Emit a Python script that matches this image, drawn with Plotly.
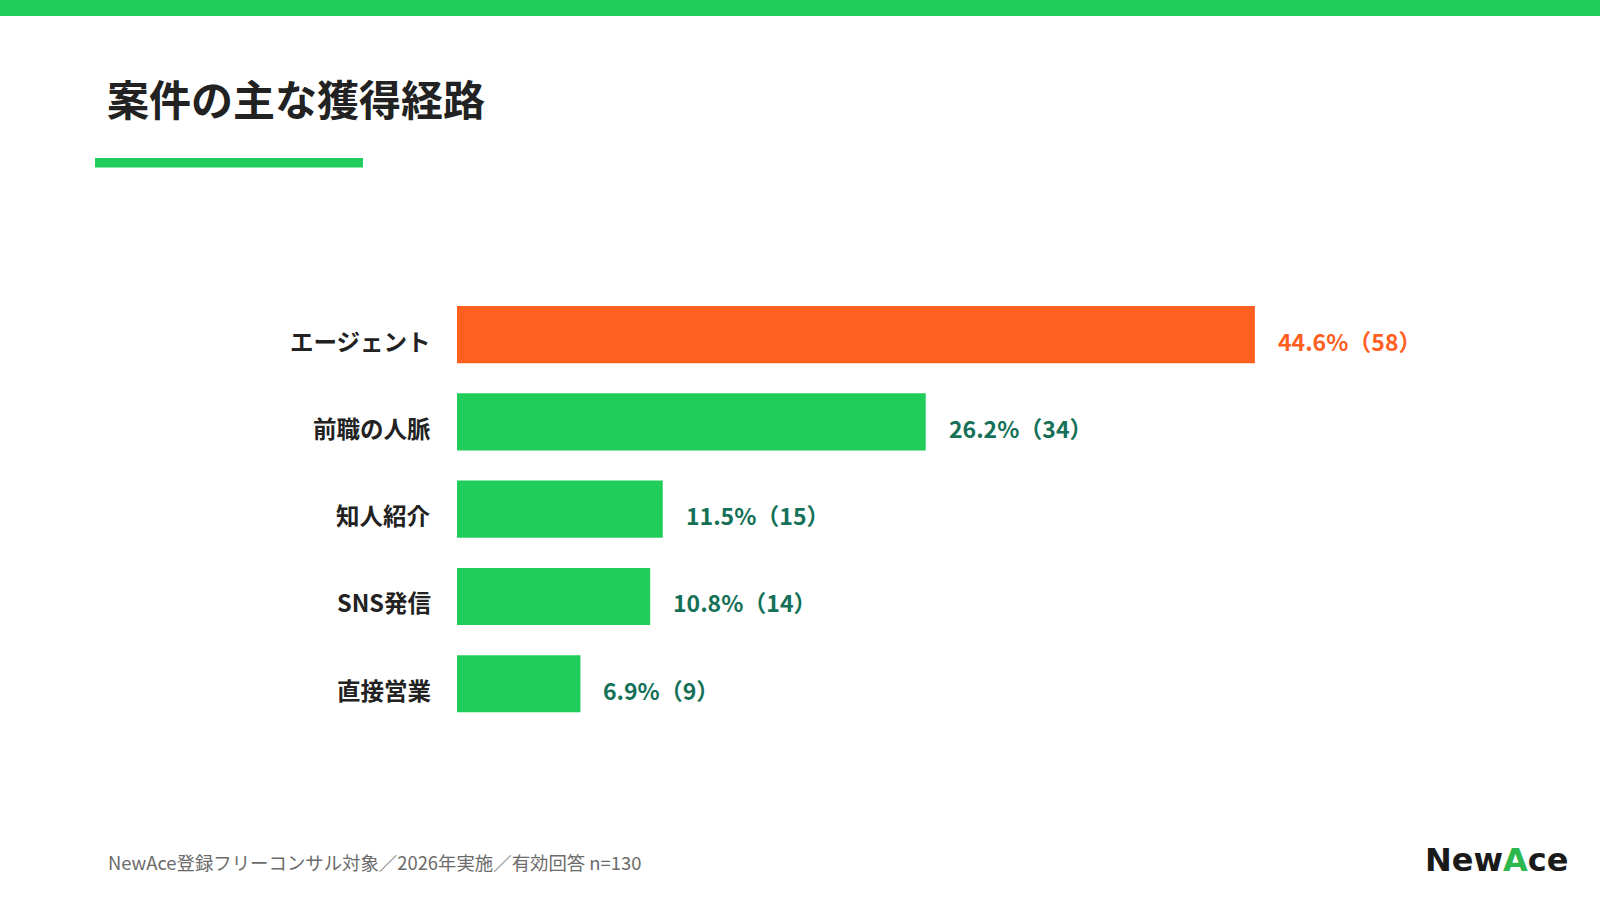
import plotly.graph_objects as go

categories = ["エージェント", "前職の人脈", "知人紹介", "SNS発信", "直接営業"]
percentages = [44.6, 26.2, 11.5, 10.8, 6.9]
counts = [58, 34, 15, 14, 9]
highlight = [True, False, False, False, False]

title_text = "案件の主な獲得経路"
footnote_text = "NewAce登録フリーコンサル対象／2026年実施／有効回答 n=130"

W, H = 1600, 903
ORANGE = "#FF5F1F"
GREEN = "#20CD5A"
TEAL = "#157058"
DARK = "#222222"
FONT = "Noto Sans CJK JP"

def px(x):
    return x / W

def py(y):
    return (H - y) / H

bar_colors = [ORANGE if h else GREEN for h in highlight]
label_colors = [ORANGE if h else TEAL for h in highlight]

fig = go.Figure()
fig.add_trace(go.Bar(
    x=percentages, y=categories, orientation="h",
    marker=dict(color=bar_colors, line=dict(width=0)),
    width=0.655, hoverinfo="skip",
))

for c, p, n, col in zip(categories, percentages, counts, label_colors):
    fig.add_annotation(
        x=p, y=c, xref="x", yref="y", text=f"{p:.1f}%（{n}）",
        showarrow=False, xanchor="left", yanchor="middle", xshift=21, yshift=-6,
        font=dict(family=FONT, size=23, color=col, weight=700),
    )
    fig.add_annotation(
        x=0, y=c, xref="x", yref="y", text=c,
        showarrow=False, xanchor="right", yanchor="middle", xshift=-24, yshift=-6,
        font=dict(family=FONT, size=23.5, color=DARK, weight=700),
    )

x_max = 50
x_left, x_right = 457, 457 + 50 * 17.89
fig.update_layout(
    width=W, height=H,
    margin=dict(l=0, r=0, t=0, b=0),
    paper_bgcolor="white", plot_bgcolor="white",
    showlegend=False,
    xaxis=dict(domain=[px(x_left), px(x_right)], range=[0, x_max],
               showgrid=False, zeroline=False, showticklabels=False,
               showline=False, fixedrange=True),
    yaxis=dict(domain=[py(727.4), py(291.0)], range=[4.5, -0.5],
               type="category", categoryorder="array", categoryarray=categories,
               showgrid=False, zeroline=False, showline=False,
               showticklabels=False, fixedrange=True),
    shapes=[
        dict(type="rect", xref="paper", yref="paper", x0=0, x1=1,
             y0=py(16), y1=1, fillcolor=GREEN, line=dict(width=0), layer="above"),
        dict(type="rect", xref="paper", yref="paper", x0=px(95), x1=px(363),
             y0=py(167.5), y1=py(158), fillcolor=GREEN, line=dict(width=0)),
    ],
)

fig.add_annotation(
    x=px(105), y=py(98), xref="paper", yref="paper", text=title_text,
    showarrow=False, xanchor="left", yanchor="middle",
    font=dict(family=FONT, size=42, color=DARK, weight=700),
)
fig.add_annotation(
    x=px(106), y=py(862), xref="paper", yref="paper", text=footnote_text,
    showarrow=False, xanchor="left", yanchor="middle",
    font=dict(family=FONT, size=18.4, color="#6b6b6b"),
)
fig.add_annotation(
    x=px(1570), y=py(860), xref="paper", yref="paper",
    text="New<span style='color:#2DB84D'>A</span>ce",
    showarrow=False, xanchor="right", yanchor="middle",
    font=dict(family="DejaVu Sans", size=32, color="#1a1a1a", weight=700),
)

fig.write_html("out.html")
